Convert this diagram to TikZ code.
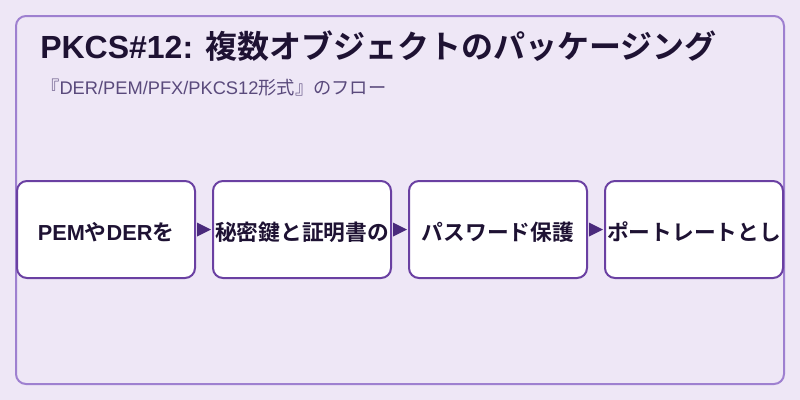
\documentclass[tikz,border=0pt]{standalone}
\usepackage{fontspec}
\newfontfamily\jpfont{Noto Sans CJK JP}
\newfontfamily\jpbold{Noto Sans CJK JP Bold}
\newfontfamily\lat{Liberation Sans}
\newcommand\latn[1]{{\lat #1}}
\newcommand\latb[1]{{\lat\bfseries #1}}
\definecolor{bgc}{HTML}{EEE7F6}
\definecolor{framec}{HTML}{9E80D0}
\definecolor{boxc}{HTML}{6A40A2}
\definecolor{arrc}{HTML}{4A2A7C}
\definecolor{titlec}{HTML}{1E1233}
\definecolor{subc}{HTML}{5A4A7C}
\begin{document}
\begin{tikzpicture}[x=0.75pt,y=-0.75pt,
  stepbox/.style={draw=boxc,line width=1.5pt,fill=white,rounded corners=7.5pt,
    minimum width=133.5pt,minimum height=72.75pt,inner sep=0pt,
    text height=17.8pt,text depth=2pt,
    font=\jpbold\fontsize{16.3}{18}\selectfont,text=titlec},
  flow/.style={fill=arrc,draw=none}]
\fill[bgc] (0,0) rectangle (800,400);
\useasboundingbox (0,0) rectangle (800,400);
\draw[framec,line width=1.5pt,rounded corners=7.5pt] (16,16) rectangle (784,384);
\node[anchor=base west,inner sep=0pt,text=titlec,font=\jpbold\fontsize{24}{28}\selectfont] (title) at (40,58) {\latb{PKCS\#12: }複数オブジェクトのパッケージング};
\node[anchor=base west,inner sep=0pt,text=subc,font=\jpfont\fontsize{13.7}{16}\selectfont] (sub) at (41,94) {『\latn{DER/PEM/PFX/PKCS12}形式』のフロー};
\node[stepbox] (b1) at (106,229.5) {\latb{PEM}や\latb{DER}を};
\node[stepbox] (b2) at (302,229.5) {秘密鍵と証明書の};
\node[stepbox] (b3) at (498,229.5) {パスワード保護};
\node[stepbox] (b4) at (694,229.5) {ポートレートとし};
\foreach \a/\b in {b1/b2,b2/b3,b3/b4}{
  \path (\a.east) -- (\b.west) coordinate[pos=0.5] (m);
  \fill[flow] ([xshift=-5.25pt,yshift=5.25pt]m) -- ([xshift=5.25pt]m) -- ([xshift=-5.25pt,yshift=-5.25pt]m) -- cycle;
}
\end{tikzpicture}
\end{document}
